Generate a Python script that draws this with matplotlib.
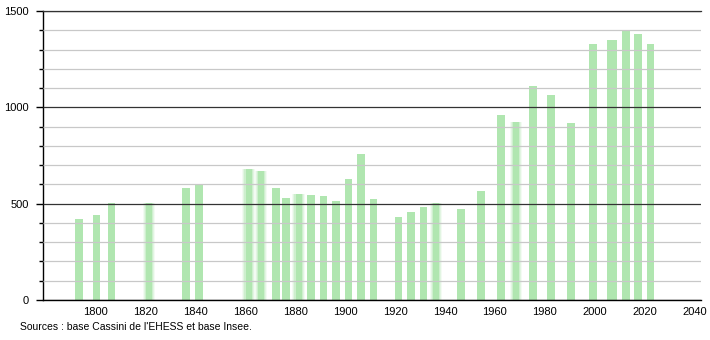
import matplotlib
matplotlib.use("Agg")
import matplotlib.pyplot as plt
from matplotlib.ticker import MultipleLocator

# population par année de recensement
annees = [1793, 1800, 1806, 1821, 1836, 1841, 1861, 1866, 1872, 1876,
          1881, 1886, 1891, 1896, 1901, 1906, 1911, 1921, 1926, 1931,
          1936, 1946, 1954, 1962, 1968, 1975, 1982, 1990, 1999, 2006,
          2007, 2012, 2017, 2022]
population = [420, 442, 504, 501, 582, 603, 680, 668, 582, 530,
              551, 545, 542, 515, 628, 758, 525, 430, 458, 484,
              503, 473, 565, 960, 922, 1113, 1063, 917, 1327, 1348,
              1352, 1394, 1382, 1330]

# barres au bord flou
annees_floues = [1821, 1861, 1866, 1881, 1936, 1968]
x_ticks = list(range(1800, 2041, 20))
source = "Sources : base Cassini de l'EHESS et base Insee."

plt.rcParams['font.family'] = ['Liberation Sans', 'DejaVu Sans']

vert = "#b0e6b0"
fig = plt.figure(figsize=(7.1, 3.4), dpi=100)
ax = fig.add_axes([0.0606, 0.1176, 0.9264, 0.85])

for a, p in zip(annees, population):
    if a in annees_floues:
        for w, al in [(5.0, 0.15), (4.2, 0.25), (3.4, 0.4), (2.4, 1.0)]:
            ax.bar(a + 0.4, p, width=w, color=vert, alpha=al, linewidth=0, zorder=1)
    else:
        ax.bar(a + 0.4, p, width=3.1, color=vert, linewidth=0, zorder=1)

ax.set_xlim(1779, 2042.5)
ax.set_ylim(0, 1500)

ax.yaxis.set_major_locator(MultipleLocator(500))
ax.yaxis.set_minor_locator(MultipleLocator(100))
ax.set_xticks(x_ticks)
ax.grid(True, axis="y", which="minor", color="#c8c8c8", linewidth=0.9, zorder=2)
ax.grid(True, axis="y", which="major", color="#333333", linewidth=0.9, zorder=3)
ax.set_axisbelow(False)

for s in ["top", "right"]:
    ax.spines[s].set_visible(False)
ax.spines["left"].set_color("black")
ax.spines["bottom"].set_color("black")
ax.spines["left"].set_linewidth(1)
ax.spines["bottom"].set_linewidth(1)
ax.axhline(1500, color="#333333", linewidth=0.9, clip_on=False, zorder=3)

ax.tick_params(axis="x", length=0, labelsize=8, pad=5)
ax.tick_params(axis="y", which="major", length=5, width=1, labelsize=8, pad=5)
ax.tick_params(axis="y", which="minor", length=3, width=1)

fig.text(20 / 710, 1 - 327 / 340, source, fontsize=7.5, va="center", ha="left")

fig.savefig("out.png", dpi=100)
